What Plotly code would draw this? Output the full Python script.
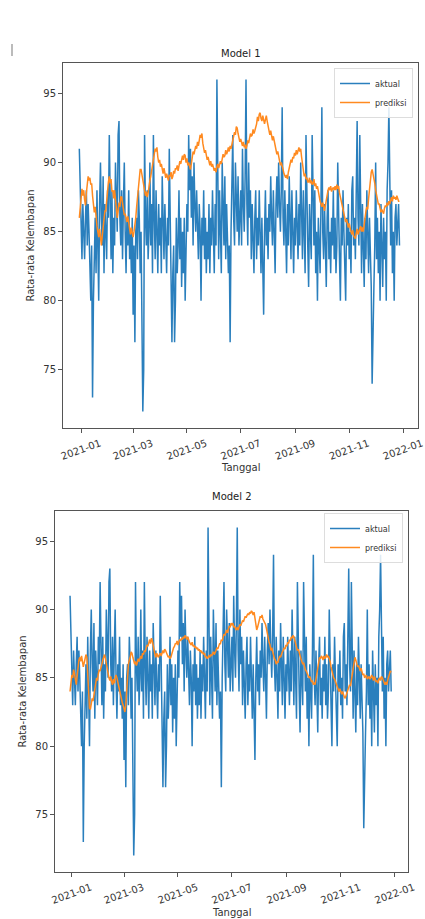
import pandas as pd
import plotly.graph_objects as go

# ---------------- data ----------------
start_date = "2020-12-30"
n_days = 364

aktual = [
    91, 88,
    # Jan
    84, 83, 87, 85, 83, 86, 88, 84, 87, 85, 83, 80, 84, 73, 80, 85, 86, 82, 88, 84, 80, 87, 90, 86, 84, 89, 82, 87, 85, 83, 88,
    # Feb
    86, 92, 85, 83, 88, 82, 86, 84, 90, 87, 85, 92, 93, 86, 84, 88, 83, 87, 90, 85, 82, 86, 84, 88, 83, 85, 82, 86,
    # Mar
    79, 84, 77, 85, 86, 83, 88, 86, 82, 85, 78, 72, 75, 92, 86, 84, 88, 83, 85, 90, 84, 87, 82, 92, 86, 83, 88, 85, 82, 87, 84,
    # Apr
    86, 82, 89, 84, 83, 87, 85, 82, 86, 84, 91, 85, 83, 77, 82, 84, 77, 80, 86, 82, 84, 88, 83, 86, 81, 85, 82, 86, 80, 84,
    # May
    87, 85, 92, 88, 91, 86, 89, 84, 90, 87, 85, 88, 86, 83, 87, 85, 80, 86, 84, 88, 83, 86, 82, 85, 83, 87, 82, 86, 84, 88, 85,
    # Jun
    82, 87, 84, 96, 86, 83, 88, 85, 82, 90, 86, 84, 89, 83, 87, 85, 82, 84, 77, 85, 88, 92, 86, 84, 90, 87, 85, 89, 84, 86,
    # Jul
    88, 84, 91, 87, 85, 89, 96, 87, 84, 90, 86, 88, 83, 87, 85, 82, 86, 88, 83, 86, 84, 88, 85, 82, 86, 83, 79, 85, 88, 84, 86,
    # Aug
    83, 87, 85, 89, 86, 84, 88, 85, 82, 87, 89, 86, 90, 87, 85, 88, 94, 86, 84, 88, 85, 82, 87, 84, 89, 86, 83, 88, 85, 82, 86,
    # Sep
    84, 88, 85, 83, 87, 84, 90, 86, 83, 88, 85, 82, 92, 86, 84, 81, 87, 85, 83, 92, 86, 84, 88, 82, 85, 80, 86, 84, 82, 87,
    # Oct
    94, 85, 83, 87, 84, 81, 86, 88, 83, 85, 82, 86, 84, 88, 83, 86, 82, 84, 90, 85, 83, 80, 86, 84, 88, 85, 82, 80, 86, 84, 87,
    # Nov
    83, 85, 82, 88, 89, 84, 86, 83, 87, 93, 86, 84, 92, 85, 82, 87, 84, 81, 86, 83, 88, 85, 82, 86, 84, 81, 74, 80, 81, 84,
    # Dec
    90, 83, 86, 82, 85, 80, 87, 84, 81, 86, 83, 85, 80, 88, 90, 94, 86, 84, 88, 82, 85, 80, 86, 87, 84, 86, 87, 84,
]

prediksi_model1 = [
    86.0, 86.8, 87.5, 88.1, 87.6, 88.0, 87.3, 86.9, 87.8, 88.6,
    89.0, 88.7, 88.9, 88.4, 88.5, 87.6, 87.0, 86.4, 86.8, 85.9,
    85.4, 85.0, 84.6, 85.2, 84.3, 84.0, 84.7, 85.5, 86.0, 86.5,
    86.5, 87.4, 87.9, 88.6, 89.0, 88.5, 88.8, 87.9, 88.0, 87.4,
    88.0, 87.2, 86.6, 86.0, 86.5, 87.1, 86.8, 87.5, 87.5, 87.0,
    86.6, 86.2, 86.3, 86.0, 85.7, 86.1, 85.5, 85.2, 84.8, 85.3,
    85.0, 84.6, 85.0, 85.4, 86.0, 86.8, 87.6, 88.4, 89.0, 89.5,
    89.5, 89.1, 88.6, 88.2, 88.0, 87.6, 87.9, 87.5, 87.8, 88.4,
    88.7, 89.0, 89.4, 89.8, 90.3, 90.6, 91.0, 90.8, 91.1, 90.4,
    90.0, 90.2, 89.7, 89.9, 89.5, 89.2, 89.6, 89.3, 88.9, 89.2,
    89.0, 88.7, 89.1, 89.0, 89.3, 88.8, 89.0, 89.4, 89.2, 89.6,
    89.5, 89.8, 89.4, 89.7, 90.1, 89.9, 90.4, 90.5, 90.2, 90.6,
    90.5, 90.0, 90.3, 89.8, 90.0, 89.6, 89.5, 89.9, 90.4, 90.8,
    90.6, 90.9, 91.2, 91.0, 91.5, 91.2, 91.6, 92.0, 91.8, 92.1,
    91.4, 91.0, 90.7, 90.9, 90.5, 90.2, 90.4, 90.0, 89.8, 90.1,
    89.7, 89.9, 89.5, 89.4, 89.6, 89.3, 89.7, 89.9, 89.6, 89.8,
    90.1, 89.9, 90.3, 90.6, 90.4, 90.5, 90.9, 90.6, 90.8, 91.1,
    90.8, 91.2, 91.0, 91.4, 91.5, 91.9, 92.2, 92.0, 92.6, 92.5,
    92.1, 91.8, 91.5, 91.7, 91.4, 91.2, 91.5, 91.1, 91.3, 91.0,
    91.2, 91.6, 91.4, 91.8, 92.1, 91.9, 92.0, 92.4, 92.1, 92.3,
    92.5, 92.8, 93.3, 93.0, 93.5, 93.6, 93.2, 93.0, 93.4, 93.0,
    92.8, 93.1, 93.4, 93.0, 92.7, 92.4, 92.0, 92.3, 91.8, 91.6,
    91.9, 91.5, 91.2, 91.0, 90.6, 90.8, 90.5, 90.1, 89.8, 90.0,
    89.6, 89.5, 89.2, 89.0, 88.9, 89.1, 88.8, 89.3, 89.6, 89.9,
    90.2, 90.0, 90.4, 90.3, 90.7, 90.5, 90.9, 90.6, 90.8, 91.1,
    90.8, 91.0, 90.4, 89.8, 89.5, 89.0, 89.2, 88.8, 88.9, 88.6,
    88.6, 88.9, 88.5, 88.7, 88.4, 88.5, 88.8, 88.3, 88.5, 88.1,
    88.3, 87.8, 87.5, 87.2, 87.0, 86.8, 87.1, 86.6, 86.5, 86.9,
    87.4, 87.8, 88.0, 88.2, 88.0, 88.3, 87.9, 88.1, 88.2, 88.0,
    88.3, 88.0, 88.4, 88.1, 88.3, 87.8, 87.5, 87.1, 86.8, 86.5,
    86.2, 86.0, 85.7, 85.9, 85.5, 85.3, 85.6, 85.1, 85.0, 84.8,
    85.1, 84.7, 84.6, 84.5, 84.9, 85.2, 84.8, 85.0, 85.2, 85.4,
    85.0, 85.3, 85.0, 85.6, 86.1, 86.5, 86.8, 86.6, 87.4, 88.2,
    88.8, 89.3, 89.5, 89.2, 88.9, 88.5, 88.0, 87.7, 87.3, 87.0,
    87.0, 86.7, 86.4, 86.6, 86.5, 86.3, 86.7, 86.9, 86.8, 87.1,
    86.9, 87.2, 87.0, 87.3, 87.5, 87.2, 87.6, 87.4, 87.5, 87.3,
    87.6, 87.4, 87.2, 87.2,
]

prediksi_model2 = [
    84.0, 84.6, 85.2, 85.0, 85.6, 85.3, 84.8, 84.5, 85.1, 85.8,
    86.3, 86.5, 86.2, 86.6, 86.0, 85.8, 86.1, 86.4, 86.7, 86.5,
    85.2, 84.0, 82.8, 82.7, 83.2, 83.5, 83.3, 83.9, 84.4, 84.6,
    85.0, 84.8, 85.3, 85.6, 85.5, 85.9, 86.0, 86.3, 86.5, 86.7,
    86.4, 86.0, 85.6, 85.4, 85.0, 84.8, 85.1, 84.7, 84.5, 84.9,
    84.6, 85.0, 85.2, 85.0, 84.7, 84.3, 84.0, 83.6, 83.5, 83.2,
    83.0, 82.8, 82.5, 83.0, 84.1, 85.2, 86.0, 86.3, 86.5, 86.9,
    86.8, 86.5, 86.2, 86.0, 86.2, 85.9, 86.1, 86.4, 86.2, 86.5,
    86.6, 86.4, 86.8, 86.7, 87.0, 86.9, 87.2, 87.4, 87.3, 87.6,
    87.8, 87.5, 87.9, 87.7, 87.3, 87.0, 86.7, 86.5, 86.8, 86.6,
    86.5, 86.7, 86.8, 86.6, 86.9, 87.0, 86.8, 87.1, 87.0, 86.8,
    86.7, 86.5, 86.6, 86.4, 86.5, 86.8, 87.0, 87.2, 87.3, 87.5,
    87.5, 87.7, 87.4, 87.6, 87.8, 87.7, 87.9, 87.8, 88.0, 87.9,
    88.1, 88.0, 87.8, 88.0, 87.7, 87.6, 87.5, 87.4, 87.6, 87.3,
    87.4, 87.2, 87.3, 87.1, 87.2, 87.0, 87.1, 86.9, 87.0, 86.8,
    86.9, 86.7, 86.8, 86.5, 86.6, 86.4, 86.5, 86.6, 86.5, 86.7,
    86.6, 86.8, 86.9, 86.7, 86.8, 87.0, 87.2, 87.1, 87.3, 87.5,
    87.5, 87.8, 87.7, 88.0, 88.2, 88.1, 88.4, 88.5, 88.3, 88.6,
    88.8, 88.7, 89.0, 88.9, 89.0, 88.7, 88.8, 88.6, 88.5, 88.7,
    88.5, 88.7, 88.9, 88.8, 89.0, 89.2, 89.1, 89.3, 89.5, 89.4,
    89.5, 89.7, 89.6, 89.8, 89.7, 89.9, 89.8, 89.6, 89.8, 89.2,
    88.8, 88.5, 88.7, 89.0, 89.3, 89.5, 89.4, 89.6, 89.3, 89.2,
    89.0, 88.9, 88.6, 88.2, 87.9, 87.6, 87.4, 87.0, 87.2, 86.9,
    86.7, 86.4, 86.3, 86.0, 86.2, 86.1, 86.4, 86.6, 86.5, 86.8,
    86.9, 87.0, 87.2, 87.1, 87.4, 87.3, 87.6, 87.5, 87.8, 87.7,
    88.0, 87.9, 88.1, 88.0, 87.7, 87.5, 87.2, 87.0, 87.1, 86.8,
    86.6, 86.4, 86.2, 86.0, 86.1, 85.8, 85.6, 85.5, 85.3, 85.2,
    85.0, 85.1, 84.9, 84.7, 84.8, 84.5, 84.6, 84.5, 84.9, 85.4,
    85.9, 86.3, 86.5, 86.4, 86.6, 86.5, 86.3, 86.6, 86.4, 86.5,
    86.7, 86.5, 86.6, 86.4, 86.2, 85.8, 85.5, 85.2, 85.0, 84.9,
    84.7, 84.5, 84.3, 84.1, 84.0, 84.2, 83.9, 83.8, 84.0, 83.7,
    83.6, 83.5, 83.7, 83.9, 84.1, 84.3, 84.5, 84.4, 84.8, 85.3,
    85.7, 86.1, 86.5, 86.3, 86.1, 85.8, 85.9, 85.6, 85.5, 85.7,
    85.4, 85.2, 85.3, 85.0, 85.1, 85.2, 84.9, 85.0, 85.1, 84.9,
    85.0, 85.2, 85.0, 84.8, 85.1, 84.9, 84.7, 84.8, 84.6, 84.9,
    85.0, 84.8, 85.1, 85.0, 84.8, 84.6, 84.5, 84.7, 84.5, 84.8,
    85.0, 85.3, 85.5, 85.4,
]

titles = ["Model 1", "Model 2"]
y_title = "Rata-rata Kelembapan"
x_title = "Tanggal"
series_names = ["aktual", "prediksi"]

# ---------------- figure ----------------
W, H = 425, 919
dates = pd.date_range(start_date, periods=n_days, freq="D")

BLUE = "#2a7fbd"
ORANGE = "#ff8a20"
FONT = "DejaVu Sans"

fig = go.Figure()


def px_x(p):
    return p / W


def px_y(p):
    return 1 - p / H


panels = [
    dict(pred=prediksi_model1, xd=[63, 418], yd=[63, 428], xr=["2020-12-11 12:00", "2022-01-18"],
         title_y=53, ytitle_x=30, xtitle_y=467, legend=[413, 68], xa="x", ya="y", lg="legend"),
    dict(pred=prediksi_model2, xd=[55, 408], yd=[511, 872], xr=["2020-12-13", "2022-01-16"],
         title_y=497, ytitle_x=22, xtitle_y=912, legend=[403, 513], xa="x2", ya="y2", lg="legend2"),
]

for k, p in enumerate(panels):
    fig.add_trace(go.Scatter(x=dates, y=aktual, mode="lines", name=series_names[0],
                             line=dict(color=BLUE, width=1.5), xaxis=p["xa"], yaxis=p["ya"],
                             legend=p["lg"]))
    fig.add_trace(go.Scatter(x=dates, y=p["pred"], mode="lines", name=series_names[1],
                             line=dict(color=ORANGE, width=1.5), xaxis=p["xa"], yaxis=p["ya"],
                             legend=p["lg"]))
    suffix = "" if k == 0 else "2"
    axis_common = dict(showline=True, linecolor="#555", linewidth=1, mirror=True,
                       ticks="outside", ticklen=4, tickcolor="#555", showgrid=False,
                       zeroline=False, automargin=False,
                       tickfont=dict(family=FONT, size=10, color="#333"))
    fig.layout["xaxis" + suffix] = dict(
        domain=[px_x(p["xd"][0]), px_x(p["xd"][1])],
        anchor="y" + suffix, range=p["xr"], type="date",
        tick0="2021-01-01", dtick="M2", tickformat="%Y-%m", tickangle=-20,
        ticklabelshift=19, ticklabelstandoff=1,
        **axis_common)
    fig.layout["yaxis" + suffix] = dict(
        domain=[px_y(p["yd"][1]), px_y(p["yd"][0])],
        anchor="x" + suffix, range=[70.8, 97.2],
        tickvals=[75, 80, 85, 90, 95], **axis_common)
    cx = (p["xd"][0] + p["xd"][1]) / 2
    cy = (p["yd"][0] + p["yd"][1]) / 2
    fig.add_annotation(text=titles[k], x=px_x(cx), y=px_y(p["title_y"]), xref="paper", yref="paper",
                       showarrow=False, font=dict(family=FONT, size=10, color="#222"),
                       xanchor="center", yanchor="middle")
    fig.add_annotation(text=y_title, x=px_x(p["ytitle_x"]), y=px_y(cy), xref="paper", yref="paper",
                       showarrow=False, textangle=-90, font=dict(family=FONT, size=10, color="#333"),
                       xanchor="center", yanchor="middle")
    fig.add_annotation(text=x_title, x=px_x(cx), y=px_y(p["xtitle_y"]), xref="paper", yref="paper",
                       showarrow=False, font=dict(family=FONT, size=10, color="#333"),
                       xanchor="center", yanchor="middle")
    fig.layout[p["lg"]] = dict(x=px_x(p["legend"][0]), y=px_y(p["legend"][1]), xanchor="right",
                               yanchor="top", bgcolor="rgba(255,255,255,0.85)", bordercolor="#ddd",
                               borderwidth=1, font=dict(family=FONT, size=8, color="#333"),
                               tracegroupgap=0, itemwidth=30)

# small grey mark at the top-left corner of the screenshot
fig.add_shape(type="line", xref="paper", yref="paper", x0=px_x(12), x1=px_x(12),
              y0=px_y(44), y1=px_y(56), line=dict(color="#bbbbbb", width=2))

fig.update_layout(width=W, height=H, margin=dict(l=0, r=0, t=0, b=0, autoexpand=False),
                  paper_bgcolor="white", plot_bgcolor="white", showlegend=True,
                  font=dict(family=FONT))

fig.write_html("out.html", config={"displayModeBar": False},
               post_script="document.body.style.margin='0';document.body.style.overflow='hidden';")
